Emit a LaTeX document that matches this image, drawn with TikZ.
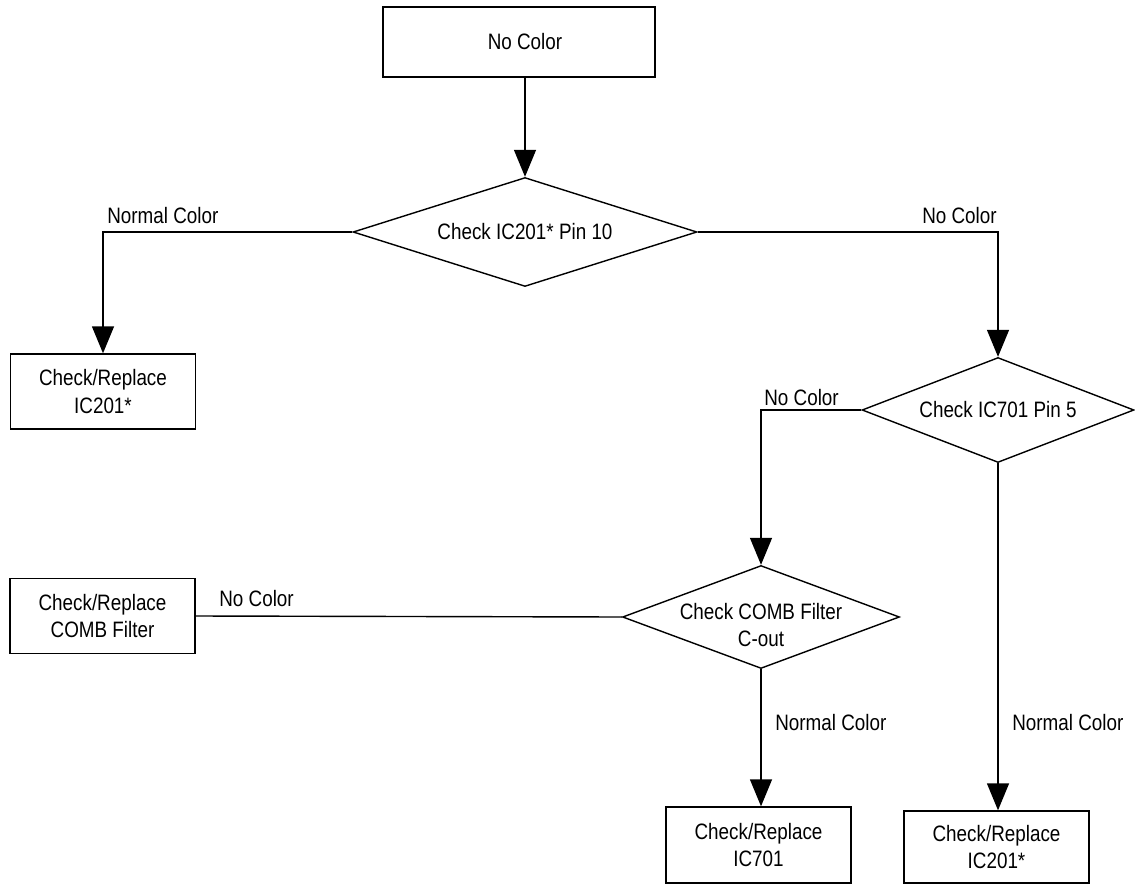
\documentclass[tikz,border=0pt]{standalone}
\usepackage{fontspec}
\setmainfont{Liberation Sans}[FakeStretch=0.845]
\usetikzlibrary{shapes.geometric,arrows.meta}
\begin{document}
\begin{tikzpicture}[x=0.02cm,y=-0.02cm,
  every node/.style={font=\fontsize{12.7pt}{15.9pt}\selectfont},
  box/.style={draw,line width=0.8pt,rectangle,inner sep=0pt,align=center},
  dia/.style={draw,line width=0.8pt,diamond,inner sep=0pt},
  line/.style={line width=0.8pt},
  arr/.style={line,-{Triangle[length=0.54cm,width=0.44cm]}},
  lab/.style={inner sep=0pt,anchor=base west},
  labr/.style={inner sep=0pt,anchor=base east}]
\useasboundingbox (0,0) rectangle (1135,885);

% boxes
\node[box,minimum width=5.44cm,minimum height=1.4cm] (top) at (519,42) {\hspace*{0.24cm}No Color};
\node[box,minimum width=3.7cm,minimum height=1.5cm] (b1) at (103,391.5) {Check/Replace\\IC201*};
\node[box,minimum width=3.7cm,minimum height=1.5cm] (comb) at (102.5,616) {Check/Replace\\COMB Filter};
\node[box,minimum width=3.7cm,minimum height=1.52cm] (b701) at (758.5,845) {Check/Replace\\IC701};
\node[box,minimum width=3.7cm,minimum height=1.44cm] (b201r) at (996.5,847) {Check/Replace\\IC201*};

% decisions
\node[dia,minimum width=6.88cm,minimum height=2.18cm,
  label={[name=d1t]center:Check IC201* Pin 10}] (d1) at (525,232) {};
\node[dia,minimum width=5.44cm,minimum height=2.1cm,
  label={[name=d2t]center:Check IC701 Pin 5}] (d2) at (998,410) {};
\node[dia,minimum width=5.54cm,minimum height=2.06cm,
  label={[name=d3t,align=center,yshift=-0.16cm]center:Check COMB Filter\\C-out}] (d3) at (761,617) {};

% connectors
\draw[arr] (d1.north |- top.south) -- (d1.north);
\draw[arr] (d1.west) -| (b1.north);
\draw[arr] (d1.east) -| (d2.north);
\draw[arr] (d2.west) -| (d3.north);
\draw[line] (d3.west) -- (comb.east);
\draw[arr] (d3.south) -- (d3.south |- b701.north);
\draw[arr] (d2.south) -- (d2.south |- b201r.north);

% labels
\node[lab] (l1) at (107,223) {Normal Color};
\node[labr] (l2) at (997,223) {No Color};
\node[lab] (l3) at (764,405) {No Color};
\node[lab] (l4) at (219,606) {No Color};
\node[lab] (l5) at (775,730) {Normal Color};
\node[lab] (l6) at (1012,730) {Normal Color};
\end{tikzpicture}
\end{document}
